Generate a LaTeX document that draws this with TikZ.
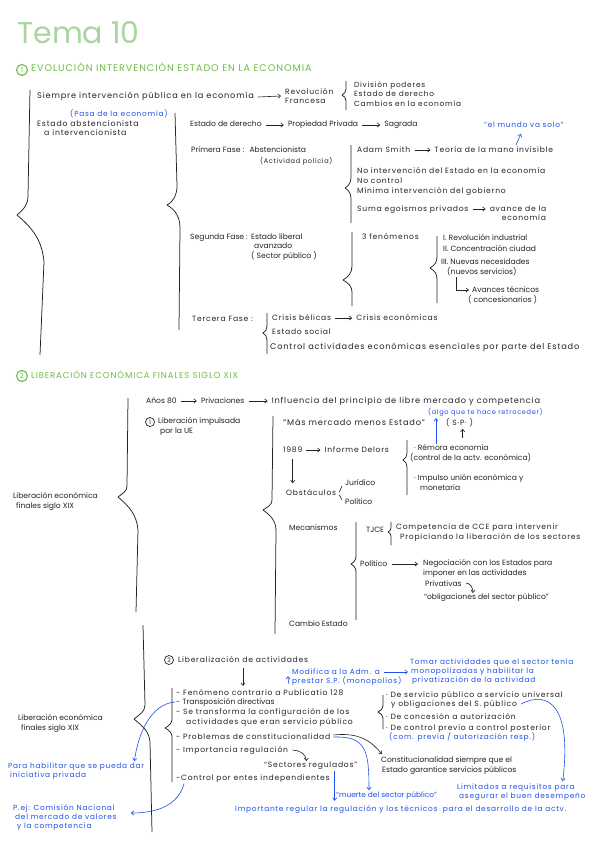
\documentclass[tikz,border=0pt]{standalone}
\usepackage{fontspec}
\setmainfont{Poppins}[LetterSpace=10]
\newfontfamily\plainf{Poppins}
\usetikzlibrary{arrows.meta,calc}
\definecolor{ink}{RGB}{35,35,35}
\definecolor{blu}{RGB}{30,80,235}
\definecolor{grn}{RGB}{110,190,70}
\definecolor{ttlg}{RGB}{170,212,160}
\newcommand\txf{\fontsize{8.2}{9.6}\selectfont}
\newcommand\txs{\fontsize{7.6}{9}\selectfont}
\newcommand\txb{\fontsize{7.4}{9}\selectfont}
\newcommand\txn{\plainf\fontsize{7.6}{9}\selectfont}
\tikzset{
  tx/.style={font=\txf, text=ink, inner sep=0pt, anchor=west, text height=5.6pt, text depth=1.6pt},
  txm/.style={font=\txf, text=ink, inner sep=0pt, anchor=west, align=left},
  ts/.style={tx, font=\txs},
  tn/.style={tx, font=\txn},
  tb/.style={tx, font=\txb, text=blu},
  hd/.style={tx, font=\fontsize{9.6}{11}\selectfont, text=grn},
  num/.style={circle, draw=grn, line width=1.1pt, text=grn, inner sep=0pt, minimum size=11pt, font=\plainf\fontsize{7}{8}\selectfont},
  numk/.style={circle, draw=ink, line width=0.7pt, text=ink, inner sep=0pt, minimum size=9pt, font=\plainf\fontsize{6}{7}\selectfont},
  ar/.style={draw=ink, line width=0.6pt, -{Straight Barb[length=2.6pt,width=4.2pt]}},
  bar/.style={ar, draw=blu},
  brc/.style={draw=ink, line width=0.75pt, line join=round},
  ln/.style={draw=ink, line width=0.6pt},
}
\begin{document}
\begin{tikzpicture}[x=1pt,y=-1pt]
\fill[white] (0,0) rectangle (600,848);
\useasboundingbox (0,0) rectangle (600,848);

% ---------- Title
\node[font=\plainf\fontsize{30}{32}\selectfont, text=ttlg, anchor=base west, inner sep=0pt] (ttl) at (17,44) {Tema 10};

% ---------- Section 1
\node[num] (n1) at (22,70) {1};
\node[hd] (h1) at (31,70) {EVOLUCIÓN INTERVENCIÓN ESTADO EN LA ECONOMIA};

\draw[brc] (30,90) -- (28,196) to[out=270,in=40] (17,215) to[out=-40,in=95] (44,262) -- (40,355);

\node[tx] (s1) at (37,97) {Siempre intervención pública en la economía};
\node[txm, font=\txs] (rf) at (285,96) {Revolución\\Francesa};
\draw[ar] ($(s1.east)+(4,0)$) -- ($(rf.west)+(-4,0)$);
\draw[brc] (346,81) -- (346,89) to[out=270,in=30] (342,95) to[out=-30,in=90] (346,101) -- (346,110);
\node[txm, font=\fontsize{7.4}{9.6}\selectfont] (dp) at (354,94) {División poderes\\Estado de derecho\\Cambios en la economía};

\node[tb] (pasa) at (70,115) {(Pasa de la economía)};
\node[txm, font=\fontsize{7.8}{9.4}\selectfont] (ea) at (37,128) {Estado abstencionista\\\hspace*{7pt}a intervencionista};

\draw[brc] (175,113) -- (177,186) to[out=270,in=30] (167,205) to[out=-30,in=90] (180,228) -- (179,330);

\node[tn] (ed) at (190,125) {Estado de derecho};
\node[tn] (pp) at ($(ed.east)+(26,0)$) {Propiedad Privada};
\node[tn] (sg) at ($(pp.east)+(26,0)$) {Sagrada};
\draw[ar] ($(ed.east)+(4,0)$) -- ($(pp.west)+(-4,0)$);
\draw[ar] ($(pp.east)+(4,0)$) -- ($(sg.west)+(-4,0)$);
\node[tb] (mv) at (484,126) {“el mundo va solo”};

\node[tn] (pf) at (191,151) {Primera Fase :};
\node[tn] (abs) at ($(pf.east)+(5,0)$) {Abstencionista};
\node[ts, font=\fontsize{6.6}{8}\selectfont] (apol) at (260,161) {(Actividad policía)};
\draw[brc] (351,145) -- (351,177) to[out=270,in=30] (345,188) to[out=-30,in=90] (351,199) -- (351,223);
\node[ts] (as) at (357,150) {Adam Smith};
\node[ts] (tmi) at ($(as.east)+(24,0)$) {Teoría de la mano invisible};
\draw[ar] ($(as.east)+(4,0)$) -- ($(tmi.west)+(-4,0)$);
\draw[bar] ($(tmi.north)+(22,-1)$) -- ($(mv.south)+(-3,4)$);
\node[ts] (ni) at (357,171) {No intervención del Estado en la economía};
\node[ts] (nc) at (357,181) {No control};
\node[ts] (mi) at (357,191) {Mínima intervención del gobierno};
\node[ts] (se) at (357,209) {Suma egoísmos privados};
\node[ts] (av) at ($(se.east)+(21,0)$) {avance de la};
\node[ts] (av2) at ($(av.west)+(12,9.5)$) {economía};
\draw[ar] ($(se.east)+(4,0)$) -- ($(av.west)+(-4,0)$);

\node[tn] (sf) at (190,237) {Segunda Fase :};
\node[tn] (el) at ($(sf.east)+(3,0)$) {Estado liberal};
\node[tn] (avz) at ($(el.west)+(3,9.5)$) {avanzado};
\node[tn] (spu) at ($(el.west)+(0,19)$) {( Sector público )};
\draw[brc] (352,232) -- (352,266) to[out=270,in=30] (343,280) to[out=-30,in=90] (352,292) -- (352,306);
\node[ts] (f3n) at (362,237) {3 fenómenos};
\draw[brc] (437,236) -- (437,257) to[out=270,in=30] (430,268) to[out=-30,in=90] (437,279) -- (437,303);
\node[tn] (fa) at (443,238) {I. Revolución industrial};
\node[tn] (fb) at (443,249) {II. Concentración ciudad};
\node[tn] (fc) at (441,262) {III. Nuevas necesidades};
\node[tn] (fd) at (447,272) {(nuevos servicios)};
\node[tn] (fe) at (472,290) {Avances técnicos};
\node[tn] (ff) at (468,300) {( concesionarios )};
\draw[ar] ($(fd.west)+(9,5)$) |- ($(fe.west)+(-3,0)$);

\node[ts] (t3) at (192,319) {Tercera Fase :};
\draw[brc] (267,313) -- (267,326) to[out=270,in=30] (263,333) to[out=-30,in=90] (267,340) -- (267,354);
\node[ts] (cb) at (272,318) {Crisis bélicas};
\node[ts] (cec) at ($(cb.east)+(25,0)$) {Crisis económicas};
\draw[ar] ($(cb.east)+(4,0)$) -- ($(cec.west)+(-4,0)$);
\node[ts] (esoc) at (272,332) {Estado social};
\node[tx] (cae) at (270,347) {Control actividades económicas esenciales por parte del Estado};

% ---------- Section 2
\node[num] (n2) at (22,376) {2};
\node[hd, font=\fontsize{8.6}{10}\selectfont] (h2) at (31,376) {LIBERACIÓN ECONÓMICA FINALES SIGLO XIX};

\draw[brc] (128,398) -- (127,486) to[out=270,in=40] (118,497) to[out=-40,in=95] (138,530) -- (136,612);
\node[tn] (le1) at (13,496) {Liberación económica};
\node[tn] (le2) at (16,506) {finales siglo XIX};

\node[tn] (a80) at (146,401) {Años 80};
\node[tn] (prv) at ($(a80.east)+(24,0)$) {Privaciones};
\node[tx] (infl) at ($(prv.east)+(27,0)$) {Influencia del principio de libre mercado y competencia};
\draw[ar] ($(a80.east)+(4,0)$) -- ($(prv.west)+(-4,0)$);
\draw[ar] ($(prv.east)+(4,0)$) -- ($(infl.west)+(-4,0)$);

\draw[brc] (273,416) -- (272,500) to[out=270,in=35] (263,510) to[out=-35,in=92] (276,530) -- (275,634);
\node[numk] (n21) at (150,422) {1};
\node[tn] (lib1) at (158,421) {Liberación impulsada};
\node[tn] (lib2) at (160,431) {por la UE};
\node[tx] (mme) at (283,423) {“Más mercado menos Estado”};
\node[tb, font=\fontsize{6.6}{8}\selectfont] (ret) at (428,412) {(algo que te hace retroceder)};
\node[ts] (spn) at (446,423) {( S·P· )};
\node[ts] (y89) at (283,450) {1989};
\node[ts] (idl) at ($(y89.east)+(22,0)$) {Informe Delors};
\draw[ar] ($(y89.east)+(4,0)$) -- ($(idl.west)+(-4,0)$);
\node[ts] (obs) at (286,493) {Obstáculos};
\node[tn] (jur) at (345,483) {Jurídico};
\node[tn] (pol1) at (345,502) {Político};
\draw[ln] ($(obs.east)+(3,-1)$) -- ($(jur.west)+(-3,3)$);
\draw[ln] ($(obs.east)+(3,2)$) -- ($(pol1.west)+(-3,-2)$);
\draw[ar] ($(y89.south)+(0,5)$) -- ($(y89.south |- obs.north)+(0,-6)$);

\draw[brc] (407,440) -- (407,453) to[out=270,in=30] (403,460) to[out=-30,in=90] (407,467) -- (407,495);
\node[tn] (rem1) at (414,448) {· Rémora economía};
\node[tn] (rem2) at (410,458) {(control de la actv. económica)};
\node[tn] (imp1) at (414,478) {· Impulso unión económica y};
\node[tn] (imp2) at (420,488) {monetaria};
\coordinate (bt) at (436,418);
\draw[bar] (bt |- rem1.north) -- (bt);
\draw[ar] ($(spn.south)+(3,11)$) -- ($(spn.south)+(3,2)$);

\node[tn] (mec) at (289,528) {Mecanismos};
\draw[brc] (356,522) -- (356,556) to[out=270,in=30] (351,564) to[out=-30,in=90] (356,572) -- (356,620);
\node[tn] (tjce) at (366,530) {TJCE};
\draw[brc] (391,522) -- (391,528) to[out=270,in=30] (388,532) to[out=-30,in=90] (391,536) -- (391,545);
\node[ts] (cc1) at (396,527) {Competencia de CCE para intervenir};
\node[ts] (cc2) at (400,537) {Propiciando la liberación de los sectores};
\node[tn] (pol2) at (360,564) {Político};
\node[tn] (neg1) at (423,563) {Negociación con los Estados para};
\node[tn] (neg2) at (423,573) {imponer en las actividades};
\node[tn] (neg3) at (425,584) {Privativas};
\node[tn] (neg4) at (424,597) {“obligaciones del sector público”};
\draw[ar] ($(pol2.east)+(4,0)$) -- ($(neg1.west |- pol2.east)+(-5,0)$);
\draw[ar] ($(neg3.east)+(4,-1)$) to[out=0,in=90] ($(neg3.east)+(11,9)$);
\node[tn] (cest) at (289,624) {Cambio Estado};

% ---------- Section 3
\draw[brc] (143,625) -- (145,705) to[out=270,in=40] (134,719) to[out=-40,in=95] (150,742) -- (152,832);
\node[tn] (le3) at (18,718) {Liberación económica};
\node[tn] (le4) at (21,728) {finales siglo XIX};

\node[numk] (n3) at (169,660) {2};
\node[ts] (lact) at (178,660) {Liberalización de actividades};
\coordinate (dA) at (243,686);
\draw[ar] ($(lact.south -| dA)+(0,4)$) -- (dA);

\node[tb] (mod1) at (292,672) {Modifica a la Adm. a};
\node[tb] (mod2) at (292,681) {prestar S.P. (monopolios)};
\draw[bar] ($(mod2.west)+(-3,3)$) to[out=100,in=270] ($(mod2.west)+(-4,-5)$);
\node[tb] (tom1) at (410,662) {Tomar actividades que el sector tenía};
\node[tb] (tom2) at (411,671) {monopolizadas y habilitar la};
\node[tb] (tom3) at (412,680) {privatización de la actividad};
\draw[bar] ($(mod1.east)+(4,0)$) -- ($(tom2.west |- mod1.east)+(-3,0)$);

\draw[brc] (172,688) -- (172,719) to[out=270,in=30] (165,728) to[out=-30,in=90] (172,737) -- (172,782);
\node[ts] (i1) at (176,693) {- Fenómeno contrario a Publicatio 128};
\node[tn] (i2) at (176,702) {- Transposición directivas};
\node[ts] (i3) at (176,712) {- Se transforma la configuración de los};
\node[ts] (i3b) at (186,722) {actividades que eran servicio público};
\node[ts] (i4) at (176,737) {- Problemas de constitucionalidad};
\node[ts] (i5) at (176,750) {- Importancia regulación};
\node[ts] (i6) at (264,765) {“Sectores regulados”};
\node[ts] (i7) at (176,778) {-Control por entes independientes};
\draw[ar] ($(i5.east)+(4,0)$) to[out=0,in=90] ($(i5.east)+(18,11)$);

\draw[brc] (383,695) -- (383,706) to[out=270,in=30] (378,712) to[out=-30,in=90] (383,718) -- (383,729);
\node[ts] (r1) at (386,695) {· De servicio público a servicio universal};
\node[ts] (r1b) at (391,704) {y obligaciones del S. público};
\node[ts] (r2) at (386,717) {· De concesión a autorización};
\node[ts] (r3) at (386,728) {· De control previo a control posterior};
\node[tb] (r4) at (389,737) {(com. previa / autorización resp.)};

\node[tn] (cs1) at (381,760) {Constitucionalidad siempre que el};
\node[tn] (cs2) at (382,770) {Estado garantice servicios públicos};

\node[tb] (ph1) at (8,766) {Para habilitar que se pueda dar};
\node[tb] (ph2) at (10,775) {iniciativa privada};
\node[tb] (pe1) at (13,808) {P.ej: Comisión Nacional};
\node[tb] (pe2) at (15,817) {del mercado de valores};
\node[tb] (pe3) at (17,826) {y la competencia};
\node[tb, font=\plainf\fontsize{7.4}{9}\selectfont] (mu) at (336,795) {“muerte del sector público”};
\node[tb] (li1) at (457,787) {Limitados a requisitos para};
\node[tb] (li2) at (459,796) {asegurar el buen desempeño};
\node[tb] (imp) at (235,809) {Importante regular la regulación y los técnicos \ para el desarrollo de la actv.};

\draw[bar] ($(i2.west)+(-1,0)$) .. controls (150,704) and (138,735) .. ($(ph1.north east)+(-10,-1)$);
\draw[bar] ($(i7.south west)+(8,2)$) .. controls (178,805) and (158,813) .. ($(pe2.east)+(14,-4)$);
\draw[bar] ($(i4.east)+(3,0)$) .. controls (366,736) and (369,750) .. ($(mu.north west)+(33,-1)$);
\draw[ar] ($(i4.east)+(3,-2)$) .. controls (360,732) and (372,742) .. ($(cs1.north west)+(1,-2)$);
\draw[bar] ($(i6.south)+(24,2)$) -- ($(i6.south)+(24,32)$);
\draw[bar] ($(r1b.east)+(4,0)$) .. controls (548,690) and (572,705) .. ($(li1.north east)+(-12,-2)$);
\end{tikzpicture}
\end{document}
